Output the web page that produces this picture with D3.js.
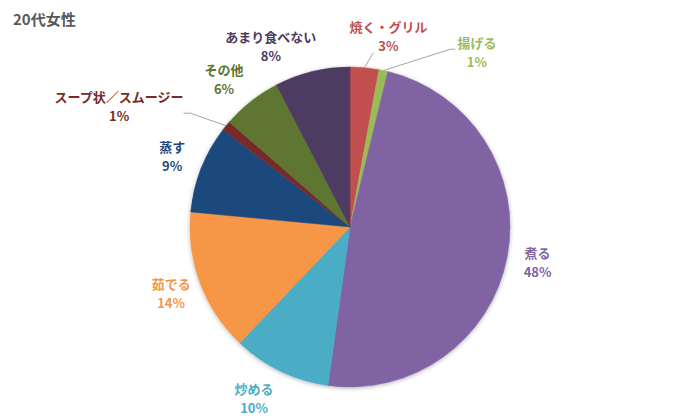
<!doctype html>
<html>
<head>
<meta charset="utf-8">
<style>
  body { margin:0; background:#fff; font-family:"Noto Sans CJK JP", "Noto Sans", sans-serif; }
</style>
<script src="https://cdn.jsdelivr.net/npm/d3@7"></script>
</head>
<body>
<script>
var categories = ["焼く・グリル", "揚げる", "煮る", "炒める", "茹でる", "蒸す", "スープ状／スムージー", "その他", "あまり食べない"];
var values = [2.9, 0.9, 48.4, 9.9, 14.4, 8.9, 1.0, 6.0, 7.6];
var colors = ["#C0504D", "#9BBB59", "#8064A2", "#4BACC6", "#F79646", "#1F497D", "#772C2A", "#5F7530", "#4D3B62"];

var width = 700, height = 420;
var cx = 350, cy = 227, r = 160;

// hand nudges for labels Excel moved away from the slice (px)
var nudge = {0: [21, 0], 1: [87, 13], 3: [-13, 0], 6: [-83, 1], 7: [-8, 3], 8: [-34, 6]};
var leaders = [0, 1, 6];

var svg = d3.select("body").append("svg")
  .attr("width", width)
  .attr("height", height);

var defs = svg.append("defs");
defs.append("filter")
  .attr("id", "shadow")
  .attr("x", "-10%").attr("y", "-10%")
  .attr("width", "120%").attr("height", "120%")
  .append("feDropShadow")
    .attr("dx", 0).attr("dy", 1)
    .attr("stdDeviation", 2)
    .attr("flood-color", "#000")
    .attr("flood-opacity", 0.3);

svg.append("text")
  .attr("x", 13)
  .attr("y", 25)
  .style("font-size", "15px")
  .style("font-weight", "bold")
  .style("fill", "#595959")
  .text("20代女性");

var data = categories.map(function(c, i) { return {name: c, value: values[i], i: i}; });

var pie = d3.pie().sort(null).value(function(d) { return d.value; });
var arc = d3.arc().innerRadius(0).outerRadius(r);
var arcs = pie(data);

var g = svg.append("g").attr("transform", "translate(" + cx + "," + cy + ")");

g.append("g")
  .attr("filter", "url(#shadow)")
  .selectAll("path")
  .data(arcs)
  .enter().append("path")
    .attr("d", arc)
    .attr("fill", function(d) { return colors[d.data.i]; })
    .attr("stroke", function(d) { return colors[d.data.i]; })
    .attr("stroke-width", 0.5);

var total = d3.sum(values);
var labelR = 191;

arcs.forEach(function(d) {
  var i = d.data.i;
  var mid = (d.startAngle + d.endAngle) / 2;
  var lx = Math.sin(mid) * labelR, ly = -Math.cos(mid) * labelR;
  if (nudge[i]) { lx += nudge[i][0]; ly += nudge[i][1]; }

  var lab = g.append("g")
    .style("font-size", "13px")
    .style("font-weight", "bold")
    .style("fill", colors[i])
    .attr("text-anchor", "middle");

  var t1 = lab.append("text").attr("x", lx).attr("y", ly - 5).text(d.data.name);
  var t2 = lab.append("text").attr("x", lx).attr("y", ly + 14)
    .text(Math.round(d.data.value / total * 100) + "%");

  if (leaders.indexOf(i) >= 0) {
    var px = Math.sin(mid) * r, py = -Math.cos(mid) * r;
    var w1 = t1.node().getComputedTextLength();
    var w2 = t2.node().getComputedTextLength();
    var pts;
    if (i === 0) {
      pts = [[px, py], [lx - w2 / 2 - 5, ly + 16]];
    } else if (i === 1) {
      pts = [[px, py], [lx - w1 / 2 - 7, ly - 4], [lx - w1 / 2 - 2, ly - 4]];
    } else {
      pts = [[px, py], [lx + w1 / 2 + 7, ly + 6], [lx + w1 / 2, ly + 6]];
    }
    g.append("path")
      .attr("d", d3.line()(pts))
      .attr("fill", "none")
      .attr("stroke", "#A6A6A6")
      .attr("stroke-width", 1);
  }
});
</script>
</body>
</html>
